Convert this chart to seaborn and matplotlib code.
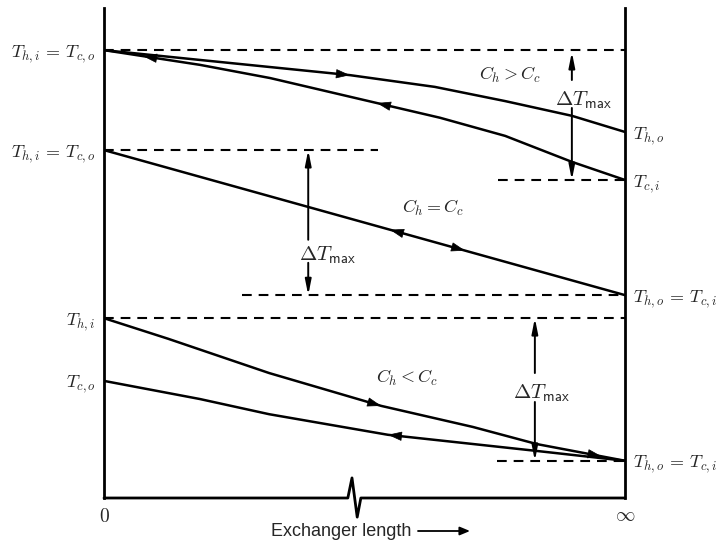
import numpy as np
import matplotlib
matplotlib.use('Agg')
import matplotlib.pyplot as plt
import seaborn as sns

# Posição ao longo do trocador (0 = entrada, 1 = comprimento infinito)
# e temperaturas numa escala arbitrária (0 = eixo, 100 = topo)

# Caso C_h > C_c
x_top_hot = [0, 0.184, 0.472, 0.635, 0.770, 0.898, 1.0]
t_top_hot = [91.4, 89.4, 86.3, 83.9, 81.0, 78.0, 74.7]
x_top_cold = [0, 0.184, 0.319, 0.524, 0.645, 0.770, 0.898, 1.0]
t_top_cold = [91.4, 88.4, 85.7, 80.6, 77.6, 73.9, 68.6, 64.9]

# Caso C_h = C_c
x_mid = [0, 1.0]
t_mid = [71.0, 41.4]

# Caso C_h < C_c
x_bot_hot = [0, 0.123, 0.317, 0.532, 0.708, 0.831, 1.0]
t_bot_hot = [36.7, 32.5, 25.5, 18.8, 14.5, 11.0, 7.6]
x_bot_cold = [0, 0.184, 0.317, 0.545, 0.831, 1.0]
t_bot_cold = [23.9, 20.2, 17.1, 12.9, 9.6, 7.6]

# Linhas tracejadas: (nível, x inicial, x final)
ref_levels = [91.4, 64.9, 71.0, 41.4, 36.7, 7.6]
ref_x0 = [0, 0.756, 0, 0.265, 0, 0.754]
ref_x1 = [1.0, 1.0, 0.526, 1.0, 1.0, 1.0]

# Setas de Delta T_max: posição x, topo, fim do trecho de cima, início do de baixo, base
dt_x = [0.898, 0.392, 0.827]
dt_top = [91.0, 71.0, 36.7]
dt_up_end = [85.3, 52.7, 25.5]
dt_low_start = [79.6, 48.0, 19.6]
dt_bottom = [64.9, 41.4, 7.6]
dt_text_x = [0.921, 0.428, 0.839]
dt_text_y = [81.2, 49.6, 21.4]

# Rótulos dos eixos
left_ticks = [91.4, 71.0, 36.7, 23.9]
left_labels = [r'$T_{h,i}\,=\,T_{c,o}$', r'$T_{h,i}\,=\,T_{c,o}$', r'$T_{h,i}$', r'$T_{c,o}$']
right_ticks = [74.7, 64.9, 41.4, 7.6]
right_labels = [r'$T_{h,o}$', r'$T_{c,i}$', r'$T_{h,o}\,=\,T_{c,i}$', r'$T_{h,o}\,=\,T_{c,i}$']

# Textos das razões de capacidade
c_labels = [r'$C_h > C_c$', r'$C_h = C_c$', r'$C_h < C_c$']
c_x = [0.780, 0.631, 0.581]
c_y = [86.3, 59.2, 24.5]

# Quebra do eixo x
quebra_x = [0, 0.468, 0.476, 0.486, 0.493, 1.0]
quebra_y = [0, 0, 4.1, -3.9, 0, 0]

sns.set_style('white')
plt.rcParams['mathtext.fontset'] = 'cm'
plt.rcParams['lines.scale_dashes'] = False
plt.rcParams['font.family'] = ['Liberation Sans', 'DejaVu Sans']

fig = plt.figure(figsize=(7.2, 5.43), dpi=100)
ax = fig.add_axes([104 / 720, 45 / 543, 521 / 720, 490 / 543])
ax.set_xlim(0, 1)
ax.set_ylim(0, 100)

# Curvas de temperatura
for xs, ts in [(x_top_hot, t_top_hot), (x_top_cold, t_top_cold), (x_mid, t_mid),
               (x_bot_hot, t_bot_hot), (x_bot_cold, t_bot_cold)]:
    sns.lineplot(x=xs, y=ts, ax=ax, color='k', lw=1.8, sort=False, estimator=None)

# Referências tracejadas
for lvl, a, b in zip(ref_levels, ref_x0, ref_x1):
    ax.plot([a, b], [lvl, lvl], color='k', lw=1.5, dashes=(7, 5))


def seta(xs, ts, x0, sentido, esc=1.0):
    # ponta de seta sobre a curva
    dx = 0.01 * sentido
    y0 = np.interp(x0, xs, ts)
    y1 = np.interp(x0 + dx, xs, ts)
    ax.annotate('', xy=(x0 + dx, y1), xytext=(x0, y0),
                arrowprops=dict(arrowstyle=f'-|>,head_length={0.9 * esc},head_width={0.3 * esc}',
                                color='k', lw=0.5, shrinkA=0, shrinkB=0))


seta(x_top_hot, t_top_hot, 0.462, 1)
seta(x_top_cold, t_top_cold, 0.534, -1)
seta(x_top_cold, t_top_cold, 0.085, -1)
seta(x_mid, t_mid, 0.559, -1)
seta(x_mid, t_mid, 0.683, 1)
seta(x_bot_hot, t_bot_hot, 0.522, 1)
seta(x_bot_cold, t_bot_cold, 0.555, -1)
seta(x_bot_hot, t_bot_hot, 0.945, 1)

# Setas de Delta T_max
for x, a, b, c, d, tx, ty in zip(dt_x, dt_top, dt_up_end, dt_low_start, dt_bottom, dt_text_x, dt_text_y):
    estilo = dict(arrowstyle='-|>,head_length=0.9,head_width=0.18', color='k', lw=1.4,
                  shrinkA=0, shrinkB=0)
    ax.annotate('', xy=(x, a), xytext=(x, b), arrowprops=estilo)
    ax.annotate('', xy=(x, d), xytext=(x, c), arrowprops=estilo)
    ax.text(tx, ty, r'$\Delta T_{\mathsf{max}}$', fontsize=15, ha='center', va='center')

for lab, x, y in zip(c_labels, c_x, c_y):
    ax.text(x, y, lab, fontsize=13, ha='center', va='center')

# Eixos
sns.despine(ax=ax, top=True, bottom=True, left=False, right=False)
for s in ['left', 'right']:
    ax.spines[s].set_linewidth(2.0)
    ax.spines[s].set_color('k')
ax.plot(quebra_x, quebra_y, color='k', lw=2.0, clip_on=False)

ax.set_xticks([0, 1])
ax.set_xticklabels([r'$0$', r'$\infty$'], fontsize=14)
ax.tick_params(axis='x', length=0, pad=7)
ax.set_yticks(left_ticks)
ax.set_yticklabels(left_labels, fontsize=13)
ax.tick_params(axis='y', length=0, pad=6)

ax2 = ax.twinx()
ax2.set_ylim(0, 100)
ax2.set_yticks(right_ticks)
ax2.set_yticklabels(right_labels, fontsize=13)
ax2.tick_params(axis='y', length=0, pad=6)
for s in ax2.spines.values():
    s.set_visible(False)

fig.text(341 / 720, 1 - 532 / 543, 'Exchanger length', fontsize=13, ha='center', va='center')
fig.add_artist(matplotlib.patches.FancyArrowPatch(
    (418 / 720, 1 - 531 / 543), (470 / 720, 1 - 531 / 543), transform=fig.transFigure,
    arrowstyle='-|>,head_length=6,head_width=2.5', color='k', lw=1.3, shrinkA=0, shrinkB=0))

plt.savefig('out.png', dpi=100)
plt.close()
